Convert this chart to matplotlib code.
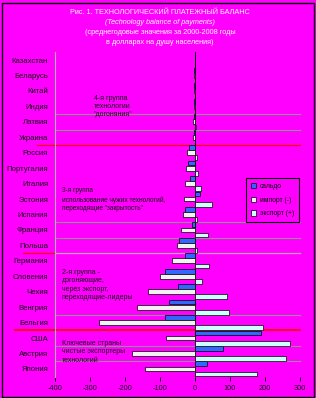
import matplotlib
matplotlib.use("Agg")
import matplotlib.pyplot as plt
from matplotlib.patches import Patch, Rectangle
import numpy as np

plt.rcParams['font.family'] = ['Liberation Sans', 'DejaVu Sans']

countries = ['Казахстан', 'Беларусь', 'Китай', 'Индия', 'Латвия', 'Украина',
             'Россия', 'Португалия', 'Италия', 'Эстония', 'Испания', 'Франция', 'Польша',
             'Германия', 'Словения', 'Чехия', 'Венгрия', 'Бельгия',
             'США', 'Австрия', 'Япония']
saldo = [-1, -3, -3, -4, -3, -4, -17, -19, -13, 15, -28, -8, -45,
         -28, -86, -48, -73, -86, 189, 79, 33]
imports = [-1, -3, -3, -3, -5, -5, -23, -25, -28, -32, -33, -39, -51,
           -66, -100, -133, -167, -273, -83, -179, -142]
exports = [0.5, 1, 0.5, 0.5, 2, 1, 5, 8, 16, 48, 6, 36, 6,
           41, 19, 90, 98, 193, 270, 259, 176]
xticks = [-400, -300, -200, -100, 0, 100, 200, 300]
legend_labels = ['сальдо', 'импорт (-)', 'экспорт (+)']
title_lines = ['Рис. 1. ТЕХНОЛОГИЧЕСКИЙ ПЛАТЕЖНЫЙ БАЛАНС',
               '(Technology balance of payments)',
               '(среднегодовые значения за 2000-2008 годы',
               'в долларах на душу населения)']

BG = '#FF00FF'
C_SALDO = '#3366FF'
C_IMP = '#F2F2F2'
C_EXP = '#CCFFFF'

W, H = 316, 398
fig = plt.figure(figsize=(W / 100, H / 100), dpi=100, facecolor=BG)
ax = fig.add_axes([55 / W, 1 - 376.7 / H, 245 / W, (376.7 - 52.3) / H], facecolor=BG)

y = np.arange(len(countries))
h = 0.31
ax.axvline(0, color='black', lw=0.7, zorder=1)
ax.barh(y - 0.33, saldo, height=h, color=C_SALDO, edgecolor='black', lw=0.5, zorder=3)
ax.barh(y, imports, height=h, color=C_IMP, edgecolor='black', lw=0.5, zorder=3)
ax.barh(y + 0.33, exports, height=h, color=C_EXP, edgecolor='black', lw=0.5, zorder=3)

ax.set_xlim(-400, 300)
ax.set_ylim(len(countries) - 0.5, -0.5)
ax.set_yticks(y)
ax.set_yticklabels(countries, fontsize=5.6, color='#101010')
ax.tick_params(axis='y', length=0, pad=5)
ax.set_xticks(xticks)
ax.set_xticklabels([str(t) for t in xticks], fontsize=5.3, color='#101010')
ax.tick_params(axis='x', length=3, width=0.7, color='black', pad=3)
for s in ['top', 'right', 'bottom']:
    ax.spines[s].set_visible(False)
ax.spines['left'].set_color('#B0B0B0')
ax.spines['left'].set_linewidth(0.8)

# separator lines (row boundaries)
gray_lines = [3.5, 4.5, 10.5, 11.5, 16.5, 18.5, 19.5]
for gl in gray_lines:
    ax.plot([0, 1], [gl, gl], transform=ax.get_yaxis_transform(), color='#909090',
            lw=0.8, zorder=2, clip_on=False)
ax.plot([-0.073, 1], [5.5, 5.5], transform=ax.get_yaxis_transform(), color='red',
        lw=0.9, zorder=2, clip_on=False)
ax.plot([-0.13, 0], [12.5, 12.5], transform=ax.get_yaxis_transform(), color='red',
        lw=0.9, zorder=2, clip_on=False)
ax.plot([0, 1], [12.5, 12.5], transform=ax.get_yaxis_transform(), color='#C8A0B8',
        lw=0.9, zorder=2, clip_on=False)
ax.plot([-0.163, 1], [17.5, 17.5], transform=ax.get_yaxis_transform(), color='red',
        lw=1.3, zorder=2, clip_on=False)

# group annotations
ann_fs = 5.0
ax.text(-290, 3.0, '4-я группа\nтехнологии\n"догоняния"', fontsize=ann_fs,
        color='#101010', ha='left', va='center', linespacing=1.25)
ax.text(-380, 9.05, '3-я группа\nиспользование чужих технологий,\nпереходящие "закрытость"',
        fontsize=ann_fs - 0.3, color='#101010', ha='left', va='center', linespacing=1.35)
ax.text(-380, 14.55, '2-я группа -\nдогоняющие,\nчерез экспорт,\nпереходящие-лидеры',
        fontsize=ann_fs, color='#101010', ha='left', va='center', linespacing=1.3)
ax.text(-380, 18.9, 'Ключевые страны\nчистые экспортеры\nтехнологий',
        fontsize=ann_fs, color='#101010', ha='left', va='center', linespacing=1.3)

# title
ty = [13, 23, 33, 43]
for i, line in enumerate(title_lines):
    fig.text(160 / W, 1 - ty[i] / H, line, fontsize=5.2, color='white', ha='center',
             va='center', style='italic' if i == 1 else 'normal')

# legend
handles = [Patch(facecolor=C_SALDO, edgecolor='black', lw=0.5),
           Patch(facecolor=C_IMP, edgecolor='black', lw=0.5),
           Patch(facecolor=C_EXP, edgecolor='black', lw=0.5)]
leg = fig.legend(handles, legend_labels, loc='upper left',
                 bbox_to_anchor=(243 / W, 1 - 175 / H), bbox_transform=fig.transFigure,
                 fontsize=4.8, frameon=True, fancybox=False, facecolor=BG, framealpha=1,
                 edgecolor='black', handlelength=0.8, handleheight=0.8, labelspacing=1.0,
                 borderpad=0.7, handletextpad=0.5)
leg.get_frame().set_linewidth(0.8)

# outer border
fig.patches.append(Rectangle((1.5 / W, 1.5 / H), (W - 4) / W, (H - 4) / H,
                             transform=fig.transFigure, fill=False, edgecolor='black',
                             lw=1.0))

fig.savefig('out.png', dpi=100, facecolor=BG)
